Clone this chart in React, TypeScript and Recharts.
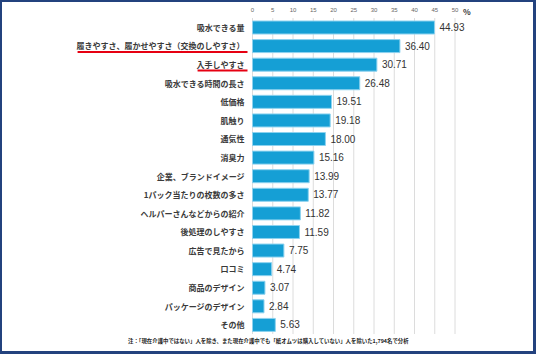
import React, { useLayoutEffect, useRef, useState } from 'react';
import { BarChart, Bar, XAxis, YAxis, CartesianGrid, LabelList } from 'recharts';

const categories = [
  '吸水できる量',
  '履きやすさ、履かせやすさ（交換のしやすさ）',
  '入手しやすさ',
  '吸水できる時間の長さ',
  '低価格',
  '肌触り',
  '通気性',
  '消臭力',
  '企業、ブランドイメージ',
  '1パック当たりの枚数の多さ',
  'ヘルパーさんなどからの紹介',
  '後処理のしやすさ',
  '広告で見たから',
  '口コミ',
  '商品のデザイン',
  'パッケージのデザイン',
  'その他',
];
const values = [44.93, 36.4, 30.71, 26.48, 19.51, 19.18, 18.0, 15.16, 13.99, 13.77, 11.82, 11.59, 7.75, 4.74, 3.07, 2.84, 5.63];
const underlined = ['履きやすさ、履かせやすさ（交換のしやすさ）', '入手しやすさ'];
const xTicks = [0, 5, 10, 15, 20, 25, 30, 35, 40, 45, 50];
const unitLabel = '%';
const footnote = '注：「現在介護中ではない」人を除き、また現在介護中でも「紙オムツは購入していない」人を除いた1,794名で分析';

const data = categories.map((name, i) => ({ name, value: values[i] }));

const CJK = '"Noto Sans CJK JP", "Noto Sans", sans-serif';
const LAT = '"Liberation Sans", Arial, sans-serif';

const CategoryTick = (props: any) => {
  const { x, y, payload } = props;
  const ref = useRef<SVGTextElement>(null);
  const [w, setW] = useState(0);
  const isU = underlined.includes(payload.value);
  useLayoutEffect(() => {
    if (ref.current) setW(ref.current.getComputedTextLength());
  }, [payload.value]);
  return (
    <g>
      <text
        ref={ref}
        x={x}
        y={y}
        textAnchor="end"
        dominantBaseline="central"
        fontFamily={CJK}
        fontSize={8}
        fontWeight={700}
        fill="#3a3a3a"
      >
        {payload.value}
      </text>
      {isU && w > 0 && (
        <line x1={x - w + 1} x2={x + 3} y1={y + 6} y2={y + 6} stroke="#e60012" strokeWidth={2} />
      )}
    </g>
  );
};

export default function App() {
  return (
    <div
      style={{
        position: 'fixed',
        left: 0,
        top: 0,
        width: 536,
        height: 354,
        boxSizing: 'border-box',
        borderTop: '2px solid #23427e',
        borderLeft: '2px solid #23427e',
        borderRight: '3px solid #23427e',
        borderBottom: '3px solid #23427e',
        background: '#fff',
        overflow: 'hidden',
      }}
    >
      <BarChart
        width={531}
        height={349}
        data={data}
        layout="vertical"
        margin={{ top: 4, right: 78, bottom: 17, left: 0 }}
        barSize={13}
      >
        <CartesianGrid horizontal={false} stroke="#dcdcdc" />
        <XAxis
          type="number"
          orientation="top"
          domain={[0, 50]}
          ticks={xTicks}
          interval={0}
          height={12}
          axisLine={false}
          tickLine={false}
          tickSize={4}
          tickMargin={2}
          tick={{ fontSize: 6, fill: '#666', fontFamily: LAT }}
          label={{ value: unitLabel, position: 'right', offset: 8, fontSize: 8, fontWeight: 700, fill: '#333', fontFamily: CJK }}
        />
        <YAxis
          type="category"
          dataKey="name"
          width={250.5}
          axisLine={false}
          tickLine={false}
          interval={0}
          tick={<CategoryTick />}
        />
        <Bar dataKey="value" fill="#159fd5" stroke="#8cd2ef" strokeWidth={1} isAnimationActive={false}>
          <LabelList
            dataKey="value"
            position="right"
            offset={5}
            formatter={(v: any) => Number(v).toFixed(2)}
            style={{ fontSize: 10, fill: '#333', fontFamily: LAT }}
          />
        </Bar>
      </BarChart>
      <div
        style={{
          position: 'absolute',
          left: 126,
          top: 334,
          fontFamily: CJK,
          fontSize: 5.4,
          fontWeight: 700,
          color: '#222',
          whiteSpace: 'nowrap',
          lineHeight: '10px',
        }}
      >
        {footnote}
      </div>
    </div>
  );
}
